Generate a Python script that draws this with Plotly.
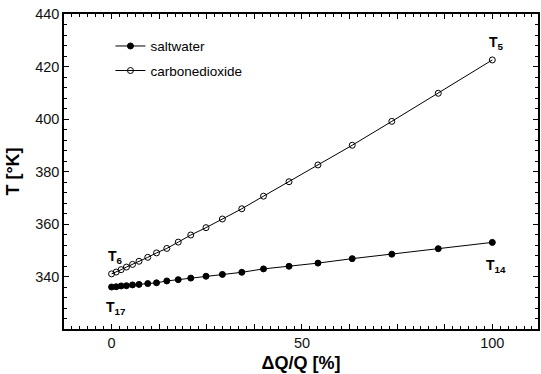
import plotly.graph_objects as go

# Relative heat duty change and the resulting stream temperatures
dq_percent = [0, 1.2, 2.5, 3.9, 5.5, 7.2, 9.5, 11.8, 14.5, 17.5, 20.8,
              24.8, 29.1, 34.2, 39.9, 46.6, 54.2, 63.2, 73.6, 85.8, 100]
t_saltwater = [336.0, 336.1, 336.4, 336.5, 336.8, 337.0, 337.3, 337.6, 338.3,
               338.8, 339.4, 340.1, 340.8, 341.6, 342.9, 343.9, 345.1, 346.8,
               348.5, 350.6, 353.0]
t_co2 = [341.0, 341.7, 342.6, 343.6, 344.6, 345.8, 347.3, 349.0, 350.7, 353.1,
         355.8, 358.6, 361.9, 365.8, 370.6, 376.1, 382.5, 390.0, 399.1, 409.8,
         422.5]

# Long ticks every 12.5 %, labelled only at 0, 50 and 100
x_tick_vals = [-12.5, 0, 12.5, 25, 37.5, 50, 62.5, 75, 87.5, 100, 112.5]
x_tick_text = ["", "0", "", "", "", "50", "", "", "", "100", ""]
y_tick_vals = [340, 360, 380, 400, 420, 440]

FONT = "Liberation Sans, Arial, sans-serif"

fig = go.Figure()
fig.add_trace(go.Scatter(
    x=dq_percent, y=t_saltwater, mode="lines+markers", name="saltwater",
    legendgroup="a",
    line=dict(color="black", width=1),
    marker=dict(symbol="circle", size=6, color="black",
                line=dict(color="black", width=1)),
))
fig.add_trace(go.Scatter(
    x=dq_percent, y=t_co2, mode="lines+markers", name="carbonedioxide",
    legendgroup="b",
    line=dict(color="black", width=1),
    marker=dict(symbol="circle-open", size=6, color="black",
                line=dict(color="black", width=1)),
))

# State point labels at the ends of each curve
labels = [
    ("T<sub>5</sub>", dq_percent[-1], t_co2[-1], 17),
    ("T<sub>6</sub>", dq_percent[0], t_co2[0], 17),
    ("T<sub>17</sub>", dq_percent[0], t_saltwater[0], -21),
    ("T<sub>14</sub>", dq_percent[-1], t_saltwater[-1], -24),
]
for txt, xv, yv, shift in labels:
    fig.add_annotation(
        x=xv, y=yv, xref="x", yref="y", text="<b>" + txt + "</b>",
        showarrow=False, yshift=shift, xshift=4,
        font=dict(family=FONT, size=14, color="black"),
    )

axis_common = dict(
    showline=True, linecolor="black", linewidth=1.5, mirror="allticks",
    ticks="inside", tickcolor="black", tickwidth=1, ticklen=5,
    showgrid=False, zeroline=False,
    tickfont=dict(family=FONT, size=14.5, color="#111111"),
)

fig.update_xaxes(
    range=[-12.5, 112.0], tickmode="array",
    tickvals=x_tick_vals, ticktext=x_tick_text,
    minor=dict(ticks="inside", tick0=0, dtick=12.5 / 6, ticklen=3,
               tickcolor="black", tickwidth=1),
    title=dict(text="<b>ΔQ/Q [%]</b>", standoff=6,
               font=dict(family=FONT, size=18, color="black")),
    **axis_common,
)
fig.update_yaxes(
    range=[320, 440], tickmode="array", tickvals=y_tick_vals,
    minor=dict(ticks="inside", tick0=320, dtick=4, ticklen=3,
               tickcolor="black", tickwidth=1),
    title=dict(text="<b>T [°K]</b>", standoff=11,
               font=dict(family=FONT, size=18, color="black")),
    **axis_common,
)

fig.update_layout(
    width=541, height=374,
    margin=dict(l=64, r=1, t=14, b=45, pad=0),
    paper_bgcolor="white", plot_bgcolor="white",
    showlegend=True,
    legend=dict(
        x=0.098, y=0.947, xanchor="left", yanchor="top",
        bgcolor="rgba(0,0,0,0)", borderwidth=0,
        traceorder="grouped", tracegroupgap=4,
        font=dict(family=FONT, size=13.5, color="black"),
    ),
)

fig.write_html("out.html")
